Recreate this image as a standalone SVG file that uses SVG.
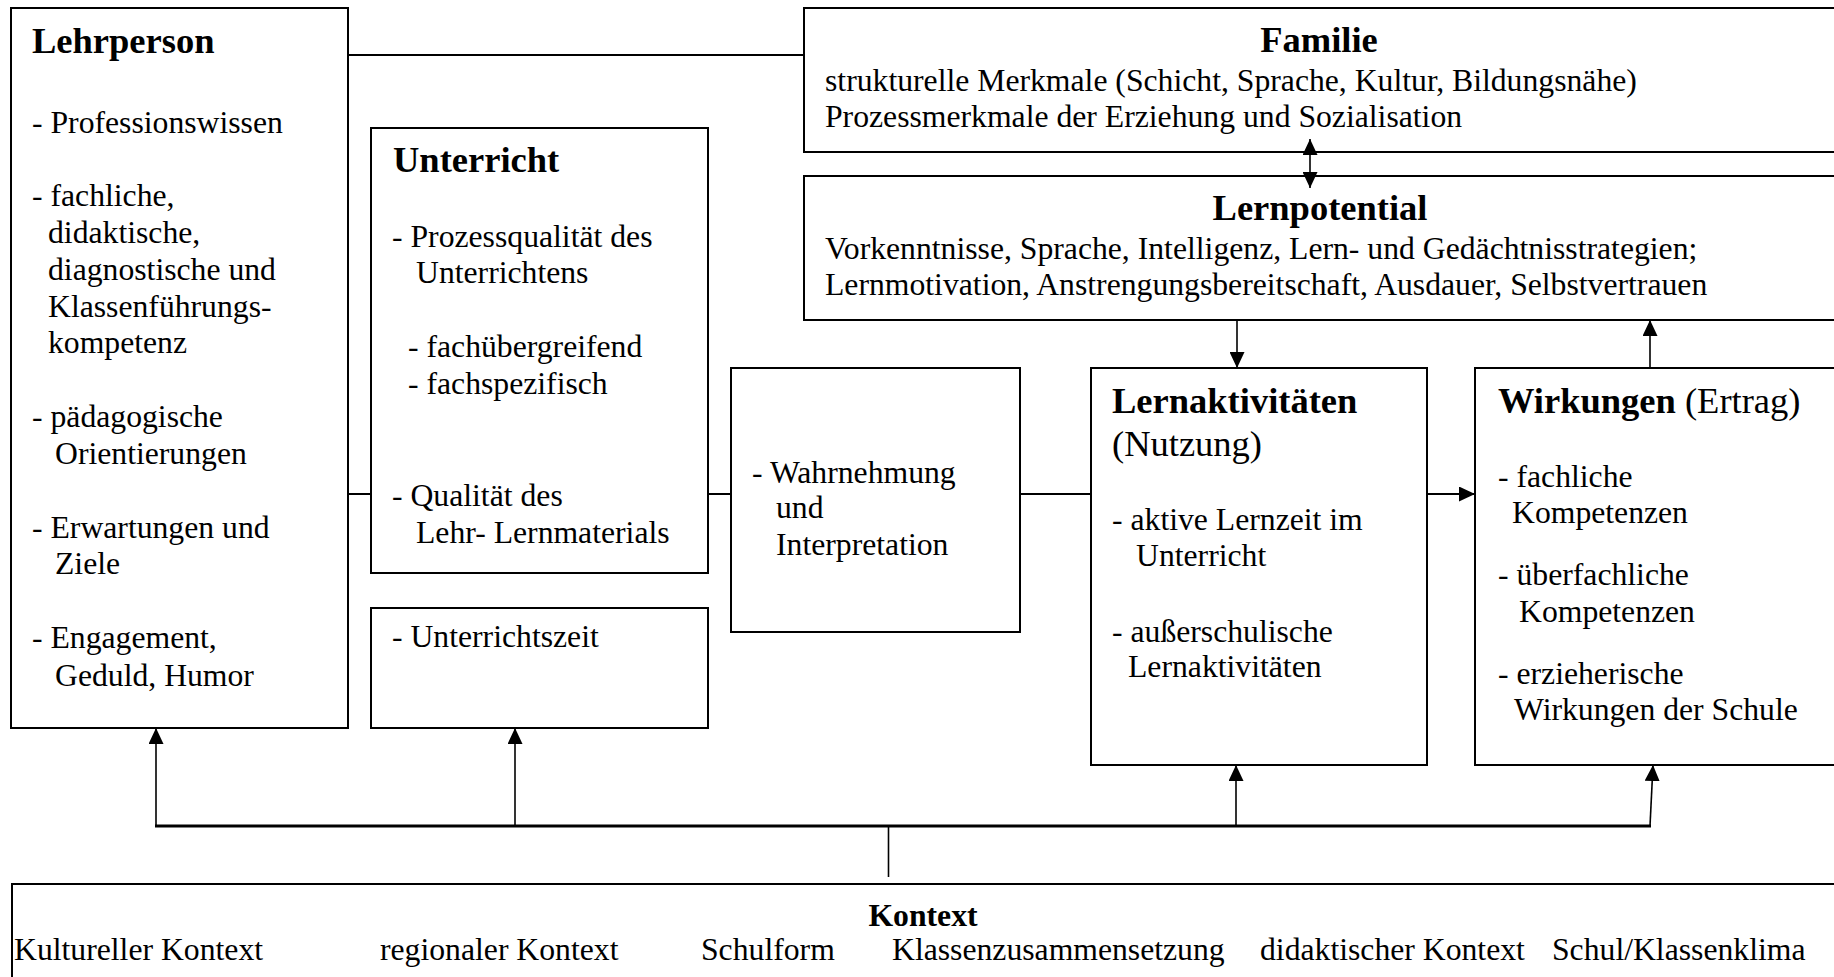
<svg xmlns="http://www.w3.org/2000/svg" width="1834" height="977" viewBox="0 0 1834 977">
<style>
.box{fill:#fff;stroke:#000;stroke-width:2}
.ln{fill:none;stroke:#000;stroke-width:2}
.ar{fill:none;stroke:#000;stroke-width:1.6}
text{font-family:"Liberation Serif","Times New Roman",serif;font-size:31.7px;fill:#000}
.h{font-weight:bold;font-size:36.5px}
.hr{font-size:36.5px}
.hk{font-weight:bold;font-size:31.7px}
</style>
<defs>
<marker id="ah" markerUnits="userSpaceOnUse" markerWidth="16" markerHeight="15" viewBox="0 0 16 15" refX="16" refY="7.5" orient="auto-start-reverse">
<path d="M0,0 L16,7.5 L0,15 z" fill="#000"/>
</marker>
</defs>
<rect width="1834" height="977" fill="#fff"/>
<g id="lehrperson">
<rect class="box" x="11" y="8" width="337" height="720"/>
<text class="h" x="32" y="53">Lehrperson</text>
<text x="32" y="133">- Professionswissen</text>
<text x="32" y="206">- fachliche,</text>
<text x="48" y="243">didaktische,</text>
<text x="48" y="280">diagnostische und</text>
<text x="48" y="317">Klassenführungs-</text>
<text x="48" y="353">kompetenz</text>
<text x="32" y="427">- pädagogische</text>
<text x="55" y="464">Orientierungen</text>
<text x="32" y="538">- Erwartungen und</text>
<text x="55" y="574">Ziele</text>
<text x="32" y="648">- Engagement,</text>
<text x="55" y="686">Geduld, Humor</text>
</g>
<g id="unterricht">
<rect class="box" x="371" y="128" width="337" height="445"/>
<text class="h" x="393" y="172">Unterricht</text>
<text x="392" y="247">- Prozessqualität des</text>
<text x="416" y="283">Unterrichtens</text>
<text x="408" y="357">- fachübergreifend</text>
<text x="408" y="394">- fachspezifisch</text>
<text x="392" y="506">- Qualität des</text>
<text x="416" y="543">Lehr- Lernmaterials</text>
</g>
<g id="unterrichtszeit">
<rect class="box" x="371" y="608" width="337" height="120"/>
<text x="392" y="647">- Unterrichtszeit</text>
</g>
<g id="wahrnehmung">
<rect class="box" x="731" y="368" width="289" height="264"/>
<text x="752" y="483">- Wahrnehmung</text>
<text x="776" y="518">und</text>
<text x="776" y="555">Interpretation</text>
</g>
<g id="lernaktivitaeten">
<rect class="box" x="1091" y="368" width="336" height="397"/>
<text class="h" x="1112" y="413">Lernaktivitäten</text>
<text class="hr" x="1112" y="456">(Nutzung)</text>
<text x="1112" y="530">- aktive Lernzeit im</text>
<text x="1136" y="566">Unterricht</text>
<text x="1112" y="642">- außerschulische</text>
<text x="1128" y="677">Lernaktivitäten</text>
</g>
<g id="wirkungen">
<rect class="box" x="1475" y="368" width="380" height="397"/>
<text x="1498" y="413"><tspan class="h">Wirkungen</tspan><tspan class="hr"> (Ertrag)</tspan></text>
<text x="1498" y="487">- fachliche</text>
<text x="1512" y="523">Kompetenzen</text>
<text x="1498" y="585">- überfachliche</text>
<text x="1519" y="622">Kompetenzen</text>
<text x="1498" y="684">- erzieherische</text>
<text x="1514" y="720">Wirkungen der Schule</text>
</g>
<g id="familie">
<rect class="box" x="804" y="8" width="1050" height="144"/>
<text class="h" x="1319" y="52" text-anchor="middle">Familie</text>
<text x="825" y="91">strukturelle Merkmale (Schicht, Sprache, Kultur, Bildungsnähe)</text>
<text x="825" y="127">Prozessmerkmale der Erziehung und Sozialisation</text>
</g>
<g id="lernpotential">
<rect class="box" x="804" y="176" width="1050" height="144"/>
<text class="h" x="1320" y="220" text-anchor="middle">Lernpotential</text>
<text x="825" y="259">Vorkenntnisse, Sprache, Intelligenz, Lern- und Gedächtnisstrategien;</text>
<text x="825" y="295">Lernmotivation, Anstrengungsbereitschaft, Ausdauer, Selbstvertrauen</text>
</g>
<g id="kontext">
<rect class="box" x="12" y="884" width="1850" height="120"/>
<text class="hk" x="923" y="926" text-anchor="middle">Kontext</text>
<text x="14" y="960">Kultureller Kontext</text>
<text x="380" y="960">regionaler Kontext</text>
<text x="701" y="960">Schulform</text>
<text x="892" y="960">Klassenzusammensetzung</text>
<text x="1260" y="960">didaktischer Kontext</text>
<text x="1552" y="960">Schul/Klassenklima</text>
</g>
<g id="connectors">
<line class="ln" x1="348" y1="55" x2="804" y2="55"/>
<line class="ln" x1="348" y1="494" x2="371" y2="494"/>
<line class="ln" x1="708" y1="494" x2="731" y2="494"/>
<line class="ln" x1="1020" y1="494" x2="1091" y2="494"/>
<line class="ln" x1="1427" y1="494" x2="1475" y2="494" marker-end="url(#ah)"/>
<line class="ar" x1="1310" y1="139" x2="1310" y2="188" marker-start="url(#ah)" marker-end="url(#ah)"/>
<line class="ar" x1="1237" y1="320" x2="1237" y2="368" marker-end="url(#ah)"/>
<line class="ar" x1="1650" y1="368" x2="1650" y2="320" marker-end="url(#ah)"/>
<line x1="155" y1="826" x2="1651" y2="826" stroke="#000" stroke-width="3"/>
<line class="ar" x1="156" y1="826" x2="156" y2="728" marker-end="url(#ah)"/>
<line class="ar" x1="515" y1="826" x2="515" y2="728" marker-end="url(#ah)"/>
<line class="ar" x1="1236" y1="826" x2="1236" y2="765" marker-end="url(#ah)"/>
<line class="ar" x1="1650" y1="826" x2="1653" y2="765" marker-end="url(#ah)"/>
<line class="ar" x1="888.5" y1="826" x2="888.5" y2="877"/>
</g>
</svg>
